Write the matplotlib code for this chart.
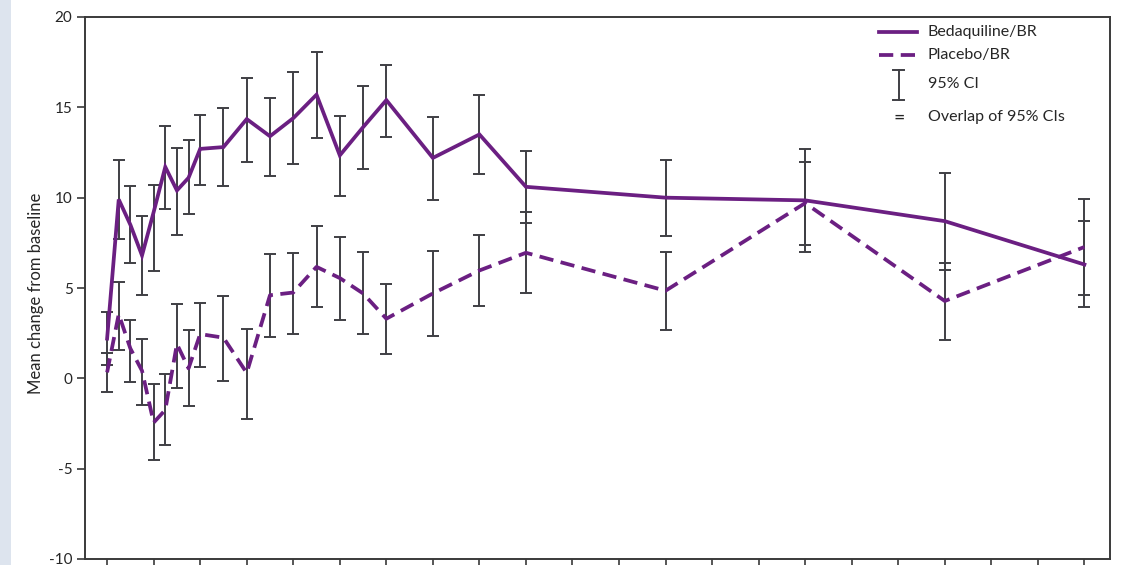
"""Mean change from baseline with 95% CIs, bedaquiline vs placebo."""

import matplotlib

matplotlib.use("Agg")

import matplotlib.pyplot as plt
import numpy as np
from matplotlib.patches import Rectangle

PURPLE = "#6b1f82"
BAR_GREY = "#3f3f44"
AXIS_GREY = "#3a3a3a"
TEXT = "#262626"
STRIP = "#dde4ee"

weeks = [0, 1, 2, 3, 4, 5, 6, 7, 8, 10, 12, 14, 16, 18, 20, 22, 24, 28, 32, 36, 48, 60, 72, 84]

bdq_mean = [2.2, 9.9, 8.5, 6.8, 9.2, 11.7, 10.4, 11.1, 12.7, 12.8, 14.35, 13.4,
            14.4, 15.7, 12.34, 13.9, 15.4, 12.2, 13.5, 10.6, 10.0, 9.85, 8.7, 6.3]
bdq_low = [0.75, 7.7, 6.38, 4.59, 5.96, 9.37, 7.91, 9.11, 10.7, 10.63, 12.0, 11.18,
           11.84, 13.3, 10.1, 11.6, 13.36, 9.85, 11.33, 8.6, 7.9, 7.0, 6.0, 3.95]
bdq_high = [3.67, 12.06, 10.63, 8.97, 10.68, 13.95, 12.77, 13.17, 14.6, 14.98, 16.64, 15.5,
            16.95, 18.05, 14.5, 16.2, 17.36, 14.47, 15.66, 12.6, 12.1, 12.7, 11.36, 8.7]

pbo_mean = [0.33, 3.55, 1.65, 0.42, -2.45, -1.75, 1.9, 0.55, 2.45, 2.25, 0.3, 4.6,
            4.75, 6.17, 5.55, 4.7, 3.3, 4.7, 5.97, 6.95, 4.85, 9.7, 4.28, 7.27]
pbo_low = [-0.75, 1.59, -0.2, -1.46, -4.5, -3.71, -0.52, -1.55, 0.63, -0.17, -2.27, 2.29,
           2.47, 3.95, 3.25, 2.47, 1.33, 2.32, 3.98, 4.7, 2.7, 7.36, 2.14, 4.63]
pbo_high = [1.4, 5.33, 3.25, 2.2, -0.33, 0.22, 4.1, 2.69, 4.17, 4.54, 2.75, 6.86,
            6.93, 8.41, 7.82, 6.99, 5.24, 7.05, 7.91, 9.2, 6.97, 12.0, 6.4, 9.9]

y_ticks = [-10, -5, 0, 5, 10, 15, 20]
x_ticks = list(range(0, 88, 4))
legend_labels = ["Bedaquiline/BR", "Placebo/BR", "95% CI", "Overlap of 95% CIs"]

plt.rcParams["font.family"] = ["Lato", "DejaVu Sans"]

fig = plt.figure(figsize=(11.27, 5.65), dpi=100)
fig.patches.append(Rectangle((0, 0), 11 / 1127, 1, transform=fig.transFigure,
                             facecolor=STRIP, edgecolor="none", zorder=0))
ax = fig.add_axes([85 / 1127, 6 / 565, 1025 / 1127, 542 / 565])


def _ci(ax, mean, low, high):
    mean = np.asarray(mean)
    err = [mean - np.asarray(low), np.asarray(high) - mean]
    ax.errorbar(weeks, mean, yerr=err, fmt="none", ecolor=BAR_GREY, elinewidth=1.4,
                capsize=4.6, capthick=1.4, zorder=2)


_ci(ax, bdq_mean, bdq_low, bdq_high)
_ci(ax, pbo_mean, pbo_low, pbo_high)

ax.plot(weeks, bdq_mean, color=PURPLE, lw=2.7, solid_joinstyle="miter", zorder=3)
ax.plot(weeks, pbo_mean, color=PURPLE, lw=2.7, ls=(0, (3.8, 2.0)), zorder=3)

ax.set_xlim(-1.9, 86.2)
ax.set_ylim(-10, 20)
ax.set_yticks(y_ticks)
ax.set_yticklabels([str(t) for t in y_ticks], fontsize=11, color=TEXT)
ax.set_xticks(x_ticks)
ax.set_xticklabels([])
ax.tick_params(direction="out", length=6, width=1.2, color=AXIS_GREY, pad=3)
for spine in ax.spines.values():
    spine.set_color(AXIS_GREY)
    spine.set_linewidth(1.4)
ax.set_ylabel("Mean change from baseline", fontsize=12, color=TEXT)
ax.yaxis.set_label_coords(-0.040, 0.49)

# hand-built legend in the upper right
tr = ax.transAxes
ax.plot([0.775, 0.812], [0.972, 0.972], color=PURPLE, lw=2.7, transform=tr)
ax.plot([0.775, 0.812], [0.930, 0.930], color=PURPLE, lw=2.7, ls=(0, (3.8, 2.0)), transform=tr)
ax.plot([0.794, 0.794], [0.847, 0.902], color=BAR_GREY, lw=1.4, transform=tr)
for yy in (0.847, 0.902):
    ax.plot([0.7885, 0.7995], [yy, yy], color=BAR_GREY, lw=1.4, transform=tr)
ax.text(0.794, 0.813, "=", transform=tr, ha="center", va="center", fontsize=14, color=TEXT)
for label, yy in zip(legend_labels, [0.972, 0.930, 0.876, 0.815]):
    ax.text(0.822, yy, label, transform=tr, ha="left", va="center", fontsize=11.5, color=TEXT)

fig.savefig("out.png", dpi=100, facecolor="white")
